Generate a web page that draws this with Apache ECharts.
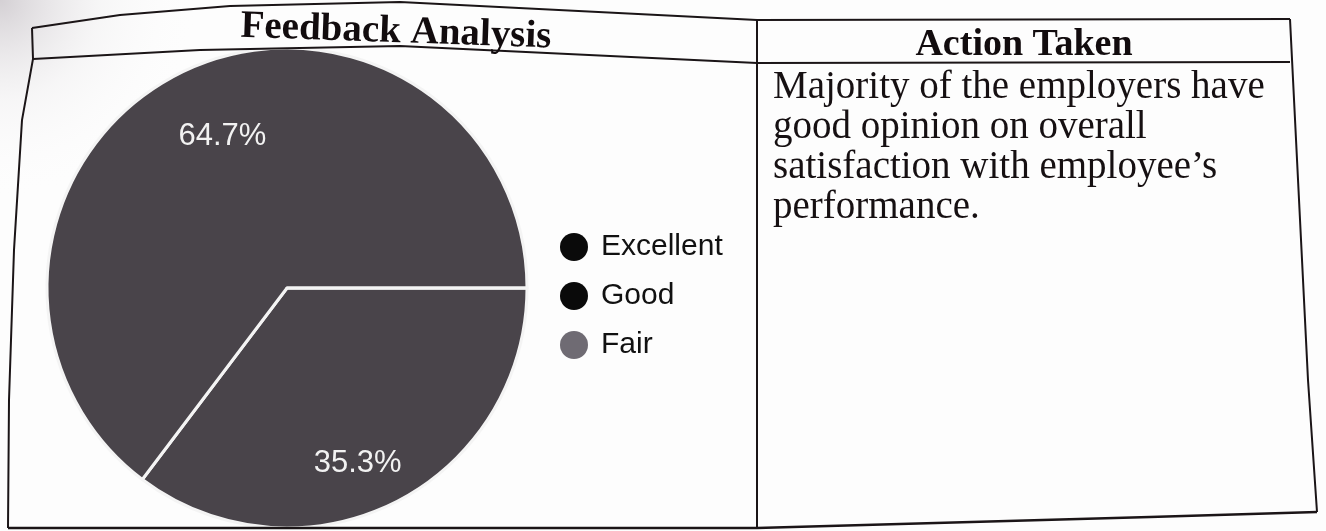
<!DOCTYPE html>
<html>
<head>
<meta charset="utf-8">
<title>Feedback Analysis</title>
<script src="https://cdn.jsdelivr.net/npm/echarts@6/dist/echarts.min.js"></script>
<style>
  html, body { margin: 0; padding: 0; background: #fdfdfd; }
  #chart { width: 1326px; height: 531px; }
</style>
</head>
<body>
<div id="chart"></div>
<script>
// Feedback categories and their share of responses (%)
const categories = ['Excellent', 'Good', 'Fair'];
const shares = [35.3, 64.7, 0];
const sliceColors = ['#49444a', '#49444a', '#6f6b73'];
const legendColors = ['#0a0a0a', '#0a0a0a', '#6f6b73'];

// Table text
const headers = ['Feedback Analysis', 'Action Taken'];
const actionLines = [
  'Majority of the employers have',
  'good opinion on overall',
  'satisfaction with employee\u2019s',
  'performance.'
];

const pieData = categories.map((name, i) => ({
  name,
  value: shares[i],
  itemStyle: { color: sliceColors[i] }
}));

const PIE_CENTER = [287, 288];
const PIE_R = 240;

const chart = echarts.init(document.getElementById('chart'), null, { renderer: 'canvas' });

// Ruled table borders (page slightly bent)
const ink = '#1b1517';
const line = (pts, w) => ({
  type: 'polyline',
  silent: true,
  shape: { points: pts },
  style: { stroke: ink, lineWidth: w || 2, fill: null },
  z: 10
});

const graphics = [
  // paper shading in the upper-left corner
  {
    type: 'rect',
    silent: true,
    shape: { x: 0, y: 0, width: 200, height: 220 },
    style: {
      fill: new echarts.graphic.RadialGradient(0, 0, 1, [
        { offset: 0, color: 'rgba(150,140,150,0.40)' },
        { offset: 0.5, color: 'rgba(200,195,200,0.12)' },
        { offset: 1, color: 'rgba(255,255,255,0)' }
      ])
    },
    z: 0
  },
  line([[32, 28], [120, 15], [230, 6], [400, 2], [757, 20], [1290, 19]]),
  line([[33, 59], [200, 50], [400, 46], [757, 63], [1290, 62]]),
  line([[32, 28], [33, 59], [22, 120], [14, 250], [9, 400], [8, 528]]),
  line([[8, 528], [757, 528], [1150, 517], [1317, 512]], 2.5),
  line([[1290, 19], [1308, 380], [1317, 512]]),
  line([[757, 20], [757, 528]]),
  {
    type: 'text',
    silent: true,
    x: 396, y: 32,
    rotation: -0.035,
    style: {
      text: headers[0],
      font: 'bold 39px "Liberation Serif", "Times New Roman", serif',
      fill: '#120c0e',
      align: 'center',
      verticalAlign: 'middle'
    },
    z: 11
  },
  {
    type: 'text',
    silent: true,
    x: 1024, y: 45,
    style: {
      text: headers[1],
      font: 'bold 38px "Liberation Serif", "Times New Roman", serif',
      fill: '#120c0e',
      align: 'center',
      verticalAlign: 'middle'
    },
    z: 11
  },
  {
    type: 'text',
    silent: true,
    x: 773, y: 68,
    style: {
      text: actionLines.join('\n'),
      font: '39px "Liberation Serif", "Times New Roman", serif',
      lineHeight: 40,
      fill: '#161012',
      align: 'left',
      verticalAlign: 'top'
    },
    z: 11
  }
];

const option = {
  backgroundColor: '#fdfdfd',
  animation: false,
  legend: {
    orient: 'vertical',
    left: 555,
    top: 227,
    icon: 'circle',
    itemWidth: 28,
    itemHeight: 28,
    itemGap: 19,
    selectedMode: false,
    itemStyle: { borderWidth: 0 },
    textStyle: {
      fontFamily: '"Liberation Sans", Arial, sans-serif',
      fontSize: 30,
      lineHeight: 30,
      color: '#111111',
      padding: [0, 0, 0, 8]
    },
    data: categories.map((name, i) => ({
      name,
      itemStyle: { color: legendColors[i], borderWidth: 0 }
    }))
  },
  series: [
    {
      type: 'pie',
      name: 'Feedback',
      center: PIE_CENTER,
      radius: PIE_R,
      startAngle: 0,
      clockwise: true,
      avoidLabelOverlap: false,
      label: { show: false },
      labelLine: { show: false },
      emphasis: { disabled: true },
      itemStyle: { borderColor: '#f4f4f4', borderWidth: 3 },
      data: pieData
    },
    {
      // transparent twin that carries the percentage labels further out in each slice
      type: 'pie',
      name: 'FeedbackLabels',
      silent: true,
      center: [PIE_CENTER[0] + 3, PIE_CENTER[1] + 12],
      radius: [0, PIE_R * 1.45],
      startAngle: 356,
      clockwise: true,
      avoidLabelOverlap: false,
      labelLine: { show: false },
      emphasis: { disabled: true },
      itemStyle: { color: 'rgba(0,0,0,0)', borderWidth: 0 },
      label: {
        show: true,
        position: 'inside',
        formatter: (p) => (p.value ? p.value.toFixed(1) + '%' : ''),
        fontFamily: '"Liberation Sans", Arial, sans-serif',
        fontSize: 31,
        color: '#f2f2f2'
      },
      data: categories.map((name, i) => ({ name, value: shares[i] }))
    }
  ],
  graphic: graphics
};

chart.setOption(option);
</script>
</body>
</html>
